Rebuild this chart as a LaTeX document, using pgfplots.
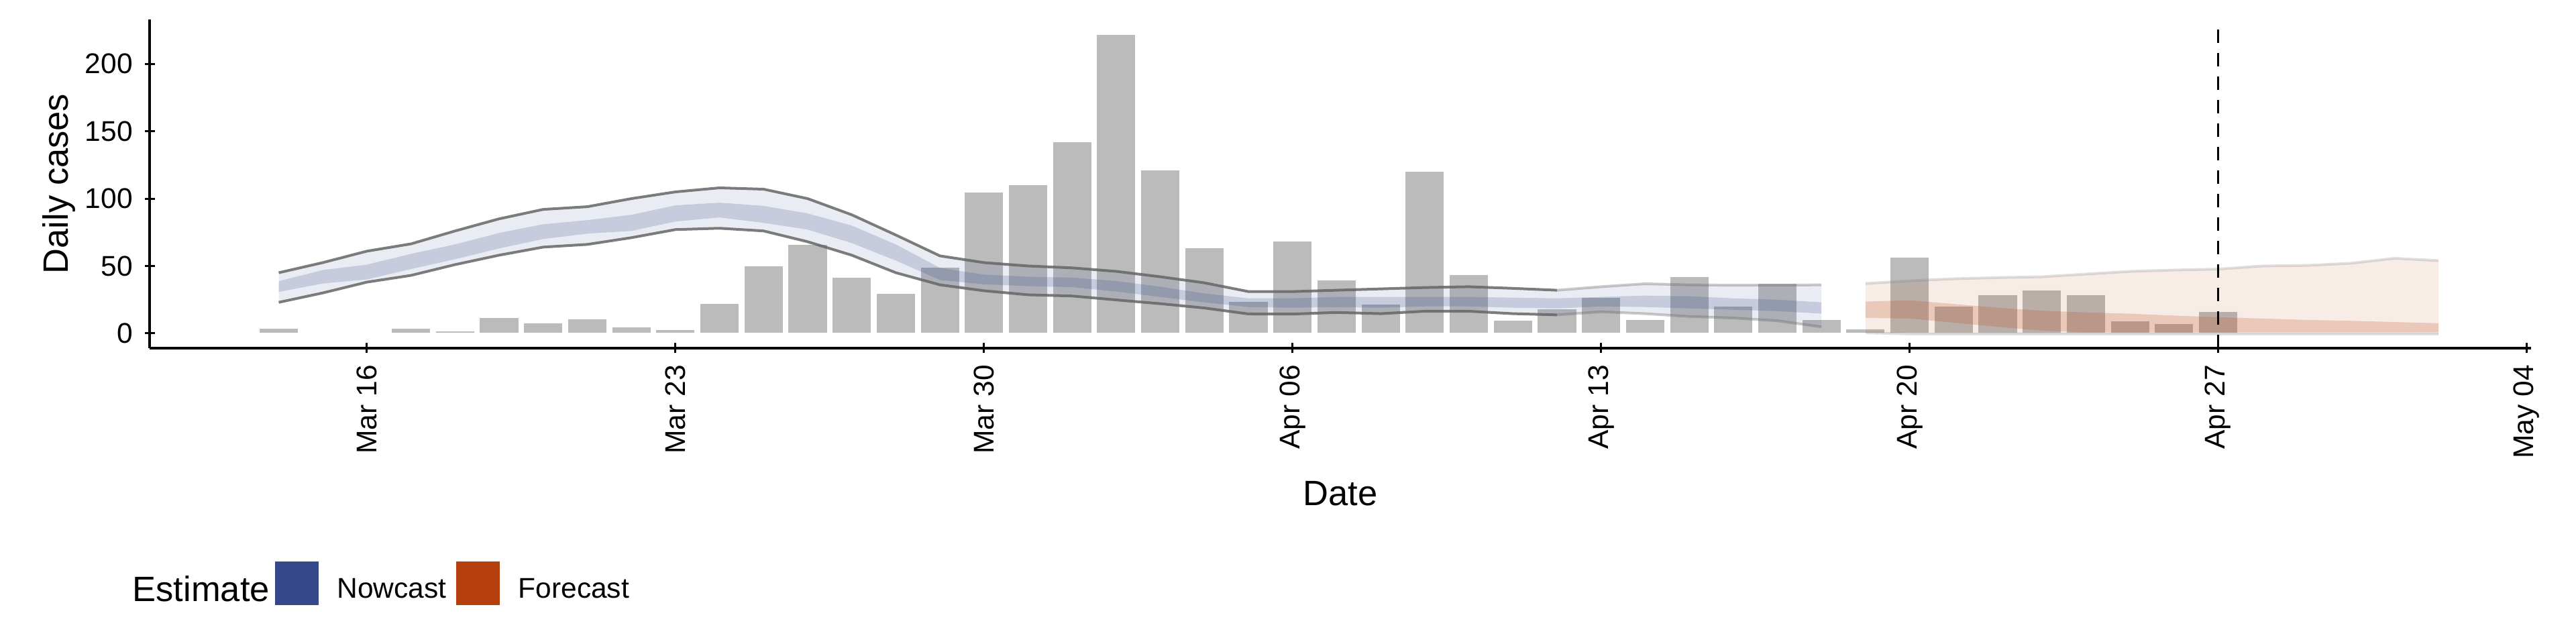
\documentclass[border=0pt]{standalone}
\usepackage{pgfplots}
\pgfplotsset{compat=1.18}
\usepackage{fontspec}
\setmainfont{Liberation Sans}
\definecolor{nowc}{HTML}{34488A}
\definecolor{forc}{HTML}{B5400D}
\definecolor{barc}{HTML}{BBBBBB}
\begin{document}
\begin{tikzpicture}
\begin{axis}[at={(44.6pt,88.2pt)}, anchor=south west, scale only axis,
 width=710pt, height=98pt,
 xmin=-4.93, xmax=49.1, ymin=-11, ymax=233,
 axis lines=left, axis line style={-, line width=0.8pt},
 xtick={0,7,14,21,28,35,42,49},
 xticklabels={Mar 16,Mar 23,Mar 30,Apr 06,Apr 13,Apr 20,Apr 27,May 04},
 x tick label style={rotate=90, anchor=east, font=\fontsize{8.5}{10}\selectfont},
 ytick={0,50,100,150,200},
 y tick label style={font=\fontsize{8.5}{10}\selectfont},
 /pgf/number format/assume math mode=true,
 tick style={black, line width=0.6pt}, major tick length=3pt,
 xlabel={Date}, ylabel={Daily cases},
 label style={font=\fontsize{10.5}{12}\selectfont},
 ylabel style={yshift=-4pt}]
\addplot[ybar, bar width=0.9, fill=barc, draw=white, line width=0.4pt] coordinates {
(-2,4)(1,4)(2,2)(3,12)(4,8)(5,11)(6,5)(7,3)(8,22.5)(9,50)(10,66)(11,42)(12,30)(13,49)
(14,105)(15,110.5)(16,142.5)(17,222)(18,121.6)(19,63.6)(20,24)(21,68.6)(22,39.6)(23,21.8)
(24,120.5)(25,43.6)(26,9.8)(27,18.6)(28,26.6)(29,10.5)(30,42.5)(31,20.5)(32,37.5)(33,10.5)
(34,3.6)(35,56.6)(36,20.5)(37,28.6)(38,32.5)(39,28.6)(40,9.6)(41,7.5)(42,16.6)};
% nowcast outer band
\addplot[fill=nowc, fill opacity=0.1, draw=none] coordinates {
(-2,45)(-1,52.5)(0,61)(1,66.4)(2,76)(3,85)(4,92)(5,94)(6,100)(7,105)(8,108)(9,107)(10,100)
(11,88)(12,73)(13,57.5)(14,52.5)(15,50)(16,48.6)(17,46)(18,42)(19,37.5)(20,31)(21,31)(22,32)
(23,33)(24,34)(25,34.6)(26,33.4)(27,32)(28,34.6)(29,36.8)(30,36)(31,35.7)(32,35.7)(33,36)
(33,4.8)(32,9.3)(31,11.4)(30,12.5)(29,14.6)(28,16)(27,13.7)(26,14.6)(25,16.4)(24,16.4)(23,14.6)
(22,15.5)(21,14.3)(20,14.4)(19,18.8)(18,22)(17,24.8)(16,27.7)(15,28.6)(14,31.6)(13,36)(12,45)
(11,58)(10,68)(9,76)(8,78)(7,77)(6,71)(5,66)(4,64)(3,58)(2,51)(1,43)(0,38)(-1,30)(-2,23)} -- cycle;
% nowcast inner band
\addplot[fill=nowc, fill opacity=0.2, draw=none] coordinates {
(-2,38.8)(-1,47)(0,51)(1,59)(2,66)(3,74.5)(4,81)(5,84)(6,88)(7,95)(8,97)(9,94.6)(10,89)(11,80)
(12,66)(13,48.6)(14,43.6)(15,42)(16,41.4)(17,38.8)(18,34.6)(19,29.6)(20,26)(21,26)(22,27)
(23,27)(24,27)(25,27)(26,26.5)(27,26)(28,27)(29,28)(30,27.5)(31,26)(32,25)(33,23)
(33,14.6)(32,16.5)(31,17.5)(30,18.5)(29,19.5)(28,20)(27,18.5)(26,19)(25,20)(24,20)(23,19)
(22,19.5)(21,19)(20,19.5)(19,23)(18,27)(17,31)(16,34.3)(15,35)(14,36.4)(13,39.6)(12,54)
(11,67)(10,77)(9,82)(8,86)(7,83)(6,76)(5,74)(4,70)(3,63)(2,55)(1,47.7)(0,40)(-1,37)(-2,30.7)} -- cycle;
\addplot[black!60, draw opacity=0.85, line width=0.8pt] coordinates {
(-2,45)(-1,52.5)(0,61)(1,66.4)(2,76)(3,85)(4,92)(5,94)(6,100)(7,105)(8,108)(9,107)(10,100)
(11,88)(12,73)(13,57.5)(14,52.5)(15,50)(16,48.6)(17,46)(18,42)(19,37.5)(20,31)(21,31)(22,32)
(23,33)(24,34)(25,34.6)(26,33.4)(27,32)};
\addplot[black!60, draw opacity=0.35, line width=0.8pt] coordinates {
(27,32)(28,34.6)(29,36.8)(30,36)(31,35.7)(32,35.7)(33,36)};
\addplot[black!60, draw opacity=0.85, line width=0.8pt] coordinates {
(-2,23)(-1,30)(0,38)(1,43)(2,51)(3,58)(4,64)(5,66)(6,71)(7,77)(8,78)(9,76)(10,68)(11,58)
(12,45)(13,36)(14,31.6)(15,28.6)(16,27.7)(17,24.8)(18,22)(19,18.8)(20,14.4)(21,14.3)(22,15.5)
(23,14.6)(24,16.4)(25,16.4)(26,14.6)(27,13.7)};
\addplot[black!60, draw opacity=0.35, line width=0.8pt] coordinates {
(27,13.7)(28,16)(29,14.6)(30,12.5)(31,11.4)(32,9.3)(33,4.8)};
% forecast
\addplot[fill=forc, fill opacity=0.1, draw=none] coordinates {
(34,37)(35,39)(36,40.5)(37,41.4)(38,42)(39,44)(40,46)(41,47)(42,47.7)(43,50)(44,50.4)(45,52)(46,55.7)(47,54)
(47,-0.5)(35,-0.5)(34,0.4)} -- cycle;
\addplot[fill=forc, fill opacity=0.2, draw=none] coordinates {
(34,23.6)(35,24.5)(36,21.8)(37,19)(38,16.8)(39,15.5)(40,14.6)(41,13.2)(42,12)(43,11)(44,10)(45,9.3)(46,8.4)(47,7.5)
(47,0.7)(39,0.7)(38,2)(37,4.8)(36,7.9)(35,11)(34,11.4)} -- cycle;
\addplot[black!50, draw opacity=0.25, line width=0.8pt] coordinates {
(34,37)(35,39)(36,40.5)(37,41.4)(38,42)(39,44)(40,46)(41,47)(42,47.7)(43,50)(44,50.4)(45,52)(46,55.7)(47,54)};
\addplot[black!50, draw opacity=0.25, line width=0.8pt] coordinates {(34,0.4)(35,-0.5)(47,-0.5)};
\addplot[black, dashed, line width=0.6pt, dash pattern=on 4pt off 3pt] coordinates {(42,-11)(42,227)};
\end{axis}
\node[anchor=west, font=\fontsize{10.5}{12}\selectfont] at (36pt,16.5pt) {Estimate};
\fill[nowc] (82pt,11.6pt) rectangle (95pt,24.6pt);
\node[anchor=west, font=\fontsize{8.5}{10}\selectfont] at (97pt,16.5pt) {Nowcast};
\fill[forc] (136pt,11.6pt) rectangle (149pt,24.6pt);
\node[anchor=west, font=\fontsize{8.5}{10}\selectfont] at (151pt,16.5pt) {Forecast};
\path[use as bounding box] (0,0) rectangle (768pt,192pt);
\end{tikzpicture}
\end{document}
